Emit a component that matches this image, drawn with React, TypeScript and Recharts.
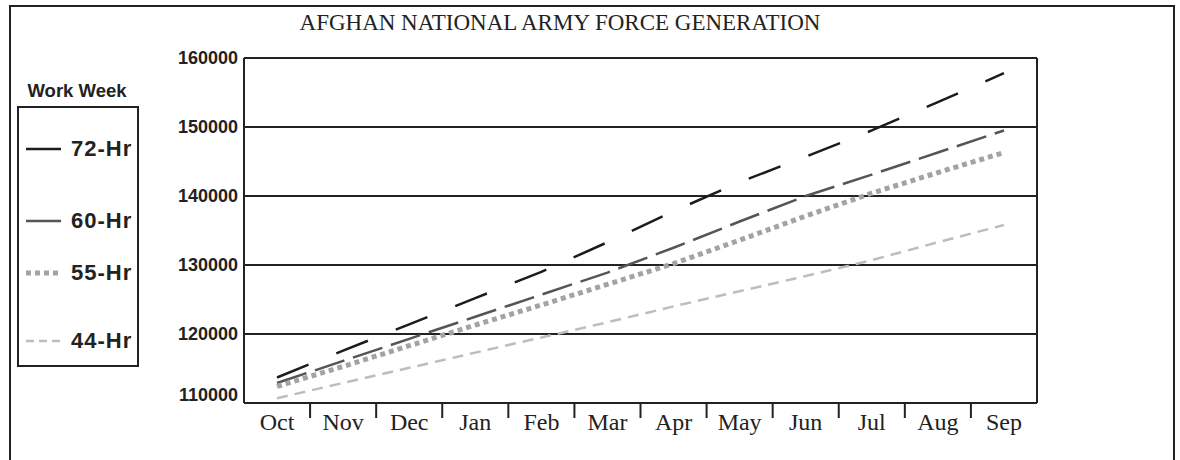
import { LineChart, Line, XAxis, YAxis, CartesianGrid } from 'recharts';

// data
const months = ['Oct', 'Nov', 'Dec', 'Jan', 'Feb', 'Mar', 'Apr', 'May', 'Jun', 'Jul', 'Aug', 'Sep'];
const hr72 = [113700, 117600, 121400, 125200, 129000, 133300, 137800, 142000, 145700, 149500, 153600, 157800];
const hr60 = [112900, 116100, 119300, 122500, 125700, 128900, 132500, 136300, 140000, 143100, 146300, 149500];
const hr55 = [112400, 115300, 118300, 121300, 124200, 127200, 130200, 133600, 137100, 140400, 143400, 146300];
const hr44 = [110700, 112900, 115100, 117300, 119500, 121700, 124000, 126200, 128400, 130700, 133300, 135800];
const yTicks = [110000, 120000, 130000, 140000, 150000, 160000];
const seriesNames = ['72-Hr', '60-Hr', '55-Hr', '44-Hr'];
const seriesValues = [hr72, hr60, hr55, hr44];

const TITLE = 'AFGHAN NATIONAL ARMY FORCE GENERATION';
const LEGEND_TITLE = 'Work Week';

const data = months.map((month, i) => {
  const row: Record<string, string | number> = { month };
  seriesNames.forEach((name, s) => {
    row[name] = seriesValues[s][i];
  });
  return row;
});

const INK = '#222';
const SANS = "'Liberation Sans', Arial, sans-serif";
const SERIF = "'Liberation Serif', 'Times New Roman', serif";

const styles: Record<string, { color: string; width: number; dash: string }> = {
  '72-Hr': { color: '#1c1c1c', width: 2.5, dash: '34 30' },
  '60-Hr': { color: '#555555', width: 2.5, dash: '31 9' },
  '55-Hr': { color: '#a3a3a5', width: 5, dash: '5 4' },
  '44-Hr': { color: '#bdbdbd', width: 2.5, dash: '11 7' },
};

// legend sample dash (short samples)
const legendDash: Record<string, string> = {
  '72-Hr': '',
  '60-Hr': '',
  '55-Hr': '5 4',
  '44-Hr': '8 5',
};
const legendRows = [149, 221, 273, 341];

const W = 1180;
const H = 460;
const Y_AXIS_W = 60;
const X_AXIS_H = 40;
// plot box: x 244..1037, y 58..403
const margin = { top: 58, right: 142, bottom: 57 - X_AXIS_H, left: 244 - Y_AXIS_W };
const plotW = 1037 - 244;
const band = plotW / months.length;

function MonthTick(props: any) {
  const { x, y, payload, index } = props;
  return (
    <g>
      <text x={x} y={y + 27} textAnchor="middle" fontFamily={SERIF} fontSize={24} fill={INK}>
        {payload.value}
      </text>
      {index > 0 && (
        <line x1={x - band / 2} x2={x - band / 2} y1={y} y2={y + 15} stroke={INK} strokeWidth={2} />
      )}
    </g>
  );
}

function ValueTick(props: any) {
  const { x, y, payload } = props;
  const shift = payload.value === yTicks[0] ? -8 : 0;
  return (
    <text
      x={x}
      y={y + shift}
      dy="0.36em"
      textAnchor="end"
      fontFamily={SANS}
      fontWeight="bold"
      fontSize={18}
      fill={INK}
    >
      {payload.value}
    </text>
  );
}

export default function App() {
  return (
    <div style={{ position: 'absolute', left: 0, top: 0, width: W, height: H, overflow: 'hidden', background: '#fff' }}>
      <div style={{ position: 'absolute', left: 0, top: 0 }}>
        <LineChart width={W} height={H} data={data} margin={margin}>
          <CartesianGrid vertical={false} stroke={INK} strokeWidth={2} />
          <XAxis
            dataKey="month"
            scale="band"
            height={X_AXIS_H}
            tickSize={0}
            tickMargin={0}
            tickLine={false}
            interval={0}
            axisLine={{ stroke: INK, strokeWidth: 2 }}
            tick={<MonthTick />}
          />
          <YAxis
            width={Y_AXIS_W}
            domain={[yTicks[0], yTicks[yTicks.length - 1]]}
            ticks={yTicks}
            tickSize={0}
            tickMargin={6}
            tickLine={false}
            axisLine={{ stroke: INK, strokeWidth: 2 }}
            tick={<ValueTick />}
          />
          <YAxis
            yAxisId="r"
            orientation="right"
            width={1}
            domain={[yTicks[0], yTicks[yTicks.length - 1]]}
            tick={false}
            tickLine={false}
            axisLine={{ stroke: INK, strokeWidth: 2 }}
          />
          {seriesNames.map((name) => (
            <Line
              key={name}
              type="linear"
              dataKey={name}
              stroke={styles[name].color}
              strokeWidth={styles[name].width}
              strokeDasharray={styles[name].dash}
              strokeLinecap="butt"
              dot={false}
              activeDot={false}
              isAnimationActive={false}
            />
          ))}
        </LineChart>
      </div>
      <svg
        width={W}
        height={H}
        style={{ position: 'absolute', left: 0, top: 0, pointerEvents: 'none' }}
      >
        <rect x={10} y={6} width={1164} height={480} fill="none" stroke={INK} strokeWidth={2} />
        <text x={560} y={30} textAnchor="middle" fontFamily={SERIF} fontSize={23} fill={INK}>
          {TITLE}
        </text>
        <text x={77} y={97} textAnchor="middle" fontFamily={SANS} fontWeight="bold" fontSize={18.5} fill={INK}>
          {LEGEND_TITLE}
        </text>
        <rect x={18} y={107} width={120} height={259} fill="none" stroke={INK} strokeWidth={2} />
        {seriesNames.map((name, i) => (
          <g key={name}>
            <line
              x1={26}
              x2={61}
              y1={legendRows[i]}
              y2={legendRows[i]}
              stroke={styles[name].color}
              strokeWidth={name === '55-Hr' ? 5 : 2.5}
              strokeDasharray={legendDash[name]}
            />
            <text
              x={71}
              y={legendRows[i] + 7}
              fontFamily={SANS}
              fontWeight="bold"
              fontSize={22}
              letterSpacing={1}
              fill={INK}
            >
              {name}
            </text>
          </g>
        ))}
      </svg>
    </div>
  );
}
